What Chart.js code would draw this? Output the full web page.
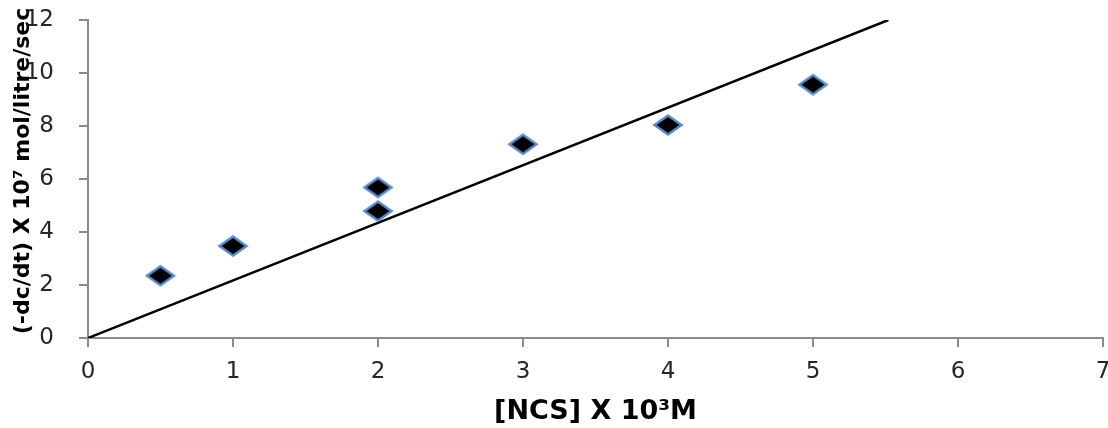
<!DOCTYPE html>
<html>
<head>
<meta charset="utf-8">
<script src="https://cdn.jsdelivr.net/npm/chart.js@4.4.0/dist/chart.umd.min.js"></script>
<style>
  html, body { margin: 0; padding: 0; background: #ffffff; }
  #wrap { width: 1108px; height: 428px; }
</style>
</head>
<body>
<div id="wrap"><canvas id="c" width="1108" height="428"></canvas></div>
<script>
// ---- data ----
const ncsValues  = [0.5, 1, 2, 2, 3, 4, 5];            // [NCS] x 10^3 M
const rateValues = [2.35, 3.47, 5.68, 4.79, 7.31, 8.04, 9.56]; // (-dc/dt) x 10^7
const trendX = [0, 5.52];
const trendY = [0, 12];
const xTicks = [0, 1, 2, 3, 4, 5, 6, 7];
const yTicks = [0, 2, 4, 6, 8, 10, 12];
const xTitle = '[NCS] X 10\u00B3M';
const yTitle = '(-dc/dt) X 10\u2077 mol/litre/sec';

// ---- marker: horizontally stretched diamond ----
function diamond(w, h, lw) {
  const cv = document.createElement('canvas');
  cv.width = w + lw * 2; cv.height = h + lw * 2;
  const g = cv.getContext('2d');
  const cx = cv.width / 2, cy = cv.height / 2;
  g.beginPath();
  g.moveTo(cx, cy - h / 2);
  g.lineTo(cx + w / 2, cy);
  g.lineTo(cx, cy + h / 2);
  g.lineTo(cx - w / 2, cy);
  g.closePath();
  g.fillStyle = '#000000';
  g.fill();
  g.lineWidth = lw;
  g.strokeStyle = '#5a8acb';
  g.stroke();
  return cv;
}
const marker = diamond(27, 19, 2.5);

const axisGray = '#8a8a8a';
const tickFont = { family: 'DejaVu Sans', size: 23 };

const yTitlePlugin = {
  id: 'yTitle',
  afterDraw(chart) {
    const ctx = chart.ctx;
    ctx.save();
    ctx.translate(23, 171);
    ctx.rotate(-Math.PI / 2);
    ctx.font = 'bold 22px "DejaVu Sans"';
    ctx.fillStyle = '#000000';
    ctx.textAlign = 'center';
    ctx.textBaseline = 'middle';
    ctx.fillText(yTitle, 0, 0);
    ctx.restore();
  }
};

const pts = ncsValues.map((x, i) => ({ x: x, y: rateValues[i] }));
const line = trendX.map((x, i) => ({ x: x, y: trendY[i] }));

new Chart(document.getElementById('c'), {
  type: 'scatter',
  data: {
    datasets: [
      {
        label: 'trend',
        data: line,
        showLine: true,
        borderColor: '#000000',
        borderWidth: 2.5,
        pointRadius: 0,
        fill: false,
        order: 2
      },
      {
        label: 'rate',
        data: pts,
        pointStyle: marker,
        pointRadius: 12,
        order: 1
      }
    ]
  },
  options: {
    responsive: false,
    animation: false,
    layout: { autoPadding: false, padding: { top: 20, right: 5, left: 0, bottom: 0 } },
    plugins: { legend: { display: false }, tooltip: { enabled: false } },
    scales: {
      x: {
        type: 'linear',
        min: 0, max: 7,
        afterBuildTicks: (s) => { s.ticks = xTicks.map(v => ({ value: v })); },
        afterFit: (s) => { s.height = 90; s.paddingLeft = 0; s.paddingRight = 0; },
        ticks: { font: tickFont, color: '#262626', padding: 11 },
        grid: { drawOnChartArea: false, drawTicks: true, tickLength: 9, color: axisGray, lineWidth: 2 },
        border: { display: true, color: axisGray, width: 2 },
        title: {
          display: true,
          text: xTitle,
          color: '#000000',
          font: { family: 'DejaVu Sans', size: 27, weight: 'bold' },
          padding: { top: 0, bottom: 0 }
        }
      },
      y: {
        type: 'linear',
        min: 0, max: 12,
        afterBuildTicks: (s) => { s.ticks = yTicks.map(v => ({ value: v })); },
        afterFit: (s) => { s.width = 88; s.paddingTop = 0; s.paddingBottom = 0; },
        ticks: { font: tickFont, color: '#262626', padding: 25 },
        grid: { drawOnChartArea: false, drawTicks: true, tickLength: 9, color: axisGray, lineWidth: 2 },
        border: { display: true, color: axisGray, width: 2 }
      }
    }
  },
  plugins: [yTitlePlugin]
});
</script>
</body>
</html>
